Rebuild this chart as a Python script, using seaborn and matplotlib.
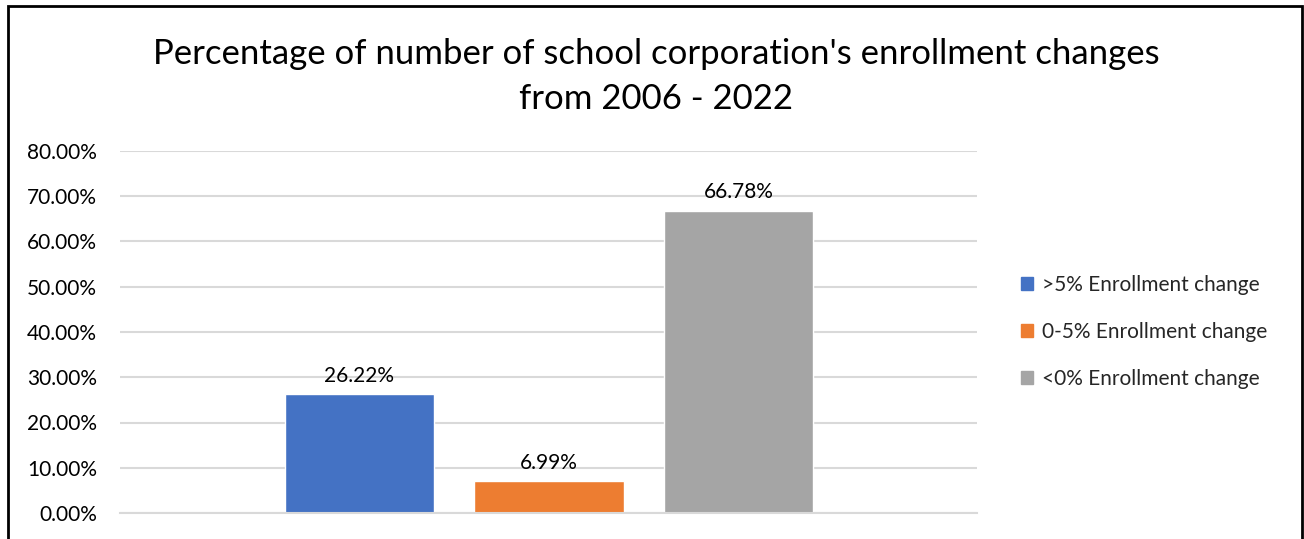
import matplotlib
matplotlib.use("Agg")
import matplotlib.pyplot as plt
import seaborn as sns
import pandas as pd
from matplotlib.ticker import FuncFormatter, MultipleLocator
from matplotlib.patches import Rectangle

categories = [">5% Enrollment change", "0-5% Enrollment change", "<0% Enrollment change"]
values = [0.2622, 0.0699, 0.6678]
colors = ["#4472C4", "#ED7D31", "#A5A5A5"]
title = "Percentage of number of school corporation's enrollment changes\nfrom 2006 - 2022"

sns.set_theme(style="white")
plt.rcParams['font.family'] = ['Lato', 'DejaVu Sans']

df = pd.DataFrame({"cat": categories, "val": values})

fig = plt.figure(figsize=(13.04, 5.39), dpi=100)
ax = fig.add_axes([120/1304, 1-513/539, (977-120)/1304, (513-151)/539])

sns.barplot(data=df, x="cat", y="val", hue="cat", palette=colors, order=categories,
            hue_order=categories, width=0.79, dodge=False, legend=False, ax=ax,
            saturation=1)

ax.set_ylim(0, 0.8)
ax.set_xlim(-1.264, 3.259)
ax.yaxis.set_major_locator(MultipleLocator(0.1))
ax.yaxis.set_major_formatter(FuncFormatter(lambda v, p: f"{v*100:.2f}%"))
ax.grid(axis="y", color="#D9D9D9", linewidth=1.5)
ax.set_axisbelow(True)
for s in ["top", "right", "left"]:
    ax.spines[s].set_visible(False)
ax.spines["bottom"].set_color("#D9D9D9")
ax.spines["bottom"].set_linewidth(1.5)
ax.set_xticks([])
ax.set_xlabel("")
ax.set_ylabel("")
ax.tick_params(axis="y", labelsize=15, length=0, pad=16.5, colors="#000000")
for lbl in ax.get_yticklabels():
    lbl.set_color("black")

for i, v in enumerate(values):
    ax.annotate(f"{v*100:.2f}%", (i, v), xytext=(0, 6), textcoords="offset points",
                ha="center", va="bottom", fontsize=15, color="black")

fig.text(656/1304, 1-77/539, title, ha="center", va="center", fontsize=25,
         color="black", linespacing=1.5)

handles = [Rectangle((0, 0), 1, 1, color=c) for c in colors]
leg = fig.legend(handles, categories, loc="center left",
                 bbox_to_anchor=(1002/1304, 1-332/539), frameon=False,
                 fontsize=15, handlelength=0.6, handleheight=0.6,
                 handletextpad=0.4, labelspacing=1.3)

border = Rectangle((8/1304, -0.05), (1302-8)/1304, 1-6/539+0.05, transform=fig.transFigure,
                   fill=False, edgecolor="black", linewidth=2, clip_on=False)
fig.add_artist(border)

fig.savefig("out.png", dpi=100, facecolor="white")
